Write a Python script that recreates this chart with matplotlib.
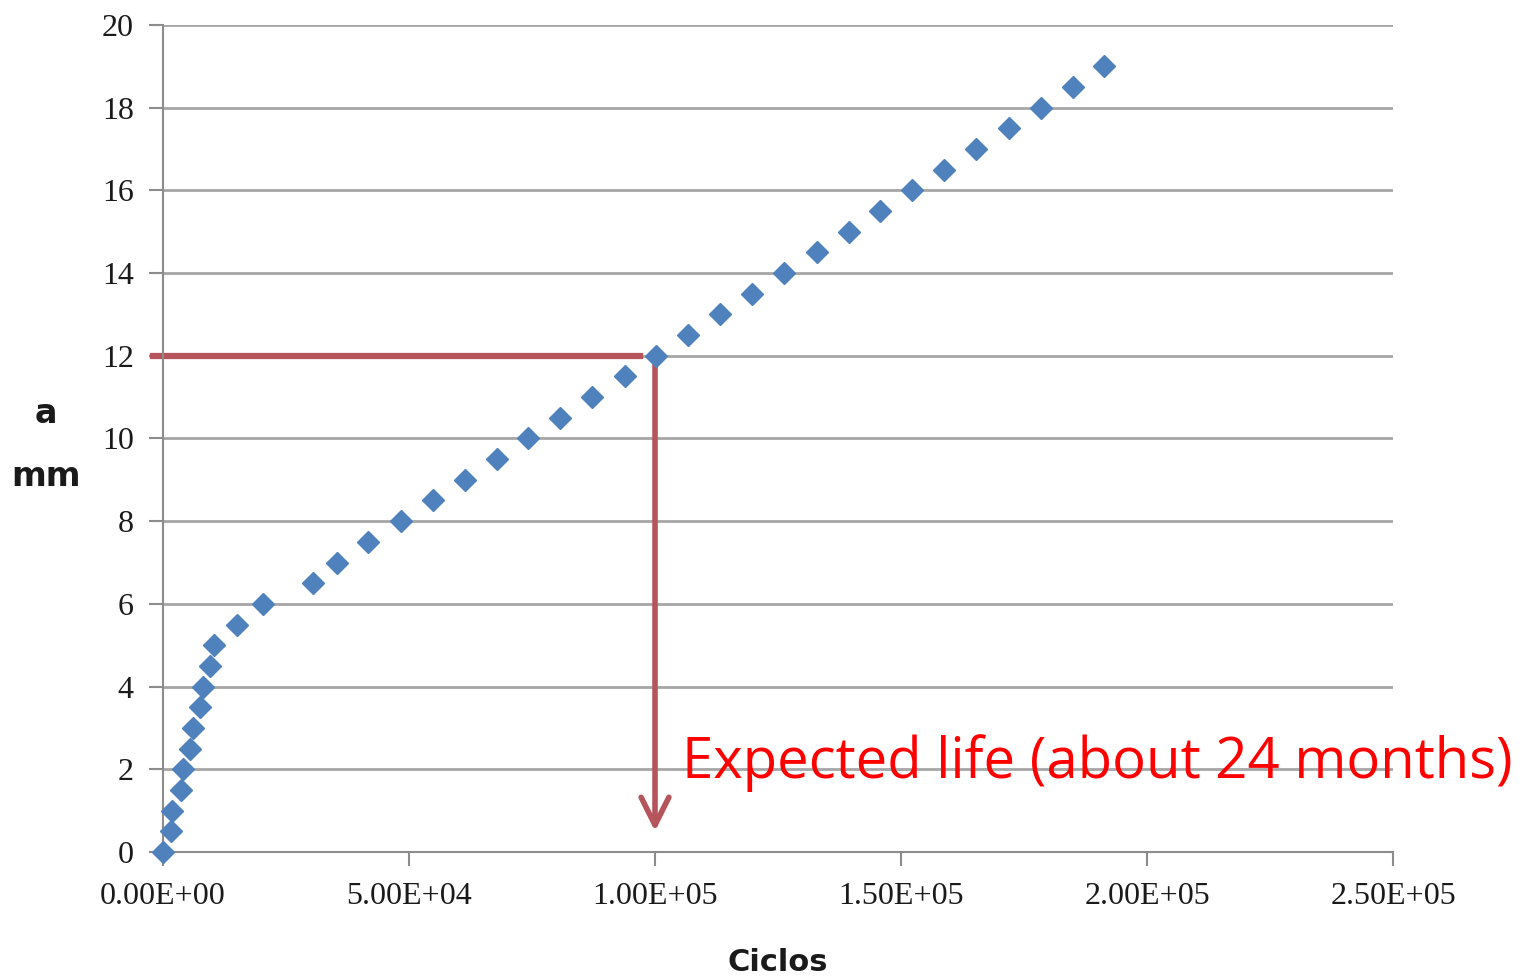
import matplotlib.pyplot as plt

# crack length a (mm) vs load cycles
cycles = [0, 1.6e3, 1.9e3, 3.7e3, 4.1e3, 5.5e3, 6.1e3, 7.5e3, 8.1e3, 9.6e3,
          10.4e3, 15.0e3, 20.3e3, 30.5e3, 35.4e3, 41.7e3, 48.4e3, 54.9e3,
          61.4e3, 67.9e3, 74.2e3, 80.7e3, 87.2e3, 93.9e3, 100.2e3, 106.7e3,
          113.2e3, 119.7e3, 126.2e3, 132.9e3, 139.4e3, 145.7e3, 152.2e3,
          158.7e3, 165.2e3, 172.0e3, 178.5e3, 185.0e3, 191.3e3]
crack_mm = [0, 0.5, 1.0, 1.5, 2.0, 2.5, 3.0, 3.5, 4.0, 4.5,
            5.0, 5.5, 6.0, 6.5, 7.0, 7.5, 8.0, 8.5,
            9.0, 9.5, 10.0, 10.5, 11.0, 11.5, 12.0, 12.5,
            13.0, 13.5, 14.0, 14.5, 15.0, 15.5, 16.0,
            16.5, 17.0, 17.5, 18.0, 18.5, 19.0]

x_ticks = [0, 5e4, 1e5, 1.5e5, 2e5, 2.5e5]
x_labels = ["0.00E+00", "5.00E+04", "1.00E+05", "1.50E+05", "2.00E+05", "2.50E+05"]
y_ticks = list(range(0, 21, 2))

critical_a = 12
life_cycles = 1.0e5
note = "Expected life (about 24 months)"

fig = plt.figure(figsize=(15.23, 9.77), dpi=100)
ax = fig.add_axes([0.107, 0.128, 0.8077, 0.8464])

ax.plot(cycles, crack_mm, linestyle="none", marker="D", ms=11,
        color="#4f81bd", zorder=3, clip_on=False)

ax.set_xlim(0, 2.5e5)
ax.set_ylim(0, 20)
ax.set_xticks(x_ticks)
ax.set_xticklabels(x_labels)
ax.set_yticks(y_ticks)

ax.grid(axis="y", color="#a6a6a6", linewidth=2)
ax.set_axisbelow(True)
for side in ["top", "right"]:
    ax.spines[side].set_visible(False)
for side in ["left", "bottom"]:
    ax.spines[side].set_color("#8c8c8c")
    ax.spines[side].set_linewidth(1.5)
ax.tick_params(axis="both", length=10, width=1.5, color="#8c8c8c",
               labelsize=23)
ax.tick_params(axis="x", pad=12)
ax.tick_params(axis="y", pad=11)
for lbl in ax.get_xticklabels() + ax.get_yticklabels():
    lbl.set_family("Liberation Serif")
    lbl.set_color("#1a1a1a")

ax.set_xlabel("Ciclos", fontsize=22, fontweight="bold", labelpad=26,
              color="#1a1a1a")
fig.text(0.030, 0.577, "a", fontsize=24, fontweight="bold", ha="center",
         va="center", color="#1a1a1a")
fig.text(0.030, 0.512, "mm", fontsize=24, fontweight="bold", ha="center",
         va="center", color="#1a1a1a")

red = "#b5545a"
ax.plot([-2.0e3, life_cycles - 3e3], [critical_a, critical_a], color=red,
        linewidth=4.5, clip_on=False, zorder=2)
ax.annotate("", xy=(life_cycles, 0.5), xytext=(life_cycles, critical_a),
            arrowprops=dict(arrowstyle="->", color=red, lw=4,
                            mutation_scale=50, shrinkA=0, shrinkB=0),
            zorder=2)

ax.text(1.055e5, 2.15, note, color="#ff0000", fontsize=40.5,
        family="Open Sans", va="center", ha="left", clip_on=False)

fig.savefig("out.png", dpi=100)
